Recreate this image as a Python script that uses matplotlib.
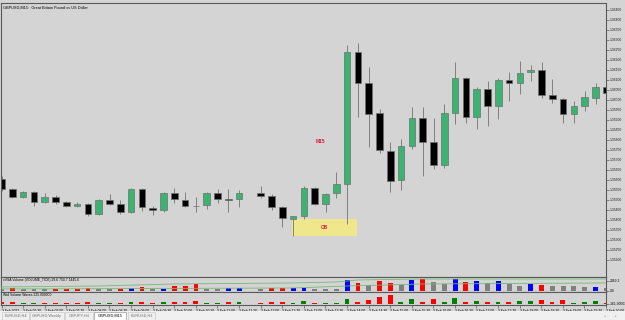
import matplotlib.pyplot as plt
from matplotlib.patches import Rectangle
import numpy as np

W, H = 625, 320

# GBPUSD M15 candles, 3 Feb 2022 (index 23 has no bar)
opens = [1.35605, 1.35555, 1.35515, 1.35540, 1.35490, 1.35515, 1.35490, 1.35470, 1.35480, 1.35430,
         1.35500, 1.35480, 1.35440, 1.35555, 1.35460, 1.35450, 1.35535, 1.35500, 1.35470, 1.35475,
         1.35535, 1.35505, 1.35505, np.nan, 1.35535, 1.35520, 1.35465, 1.35405, 1.35420, 1.35560,
         1.35480, 1.35535, 1.35580, 1.36240, 1.36085, 1.35935, 1.35745, 1.35600, 1.35770, 1.35910,
         1.35790, 1.35675, 1.35935, 1.36110, 1.35915, 1.36055, 1.35970, 1.36100, 1.36085, 1.36140,
         1.36150, 1.36025, 1.36005, 1.35930, 1.35970, 1.36010, 1.36065]
highs = [1.35620, 1.35560, 1.35545, 1.35545, 1.35535, 1.35525, 1.35495, 1.35490, 1.35485, 1.35505,
         1.35530, 1.35500, 1.35560, 1.35560, 1.35470, 1.35540, 1.35560, 1.35540, 1.35515, 1.35540,
         1.35555, 1.35555, 1.35550, np.nan, 1.35570, 1.35530, 1.35470, 1.35420, 1.35570, 1.35565,
         1.35535, 1.35640, 1.36275, 1.36285, 1.36165, 1.35955, 1.35790, 1.35805, 1.35965, 1.35965,
         1.35910, 1.35980, 1.36190, 1.36115, 1.36065, 1.36095, 1.36110, 1.36140, 1.36195, 1.36175,
         1.36190, 1.36105, 1.36010, 1.35995, 1.36045, 1.36085, 1.36075]
lows = [1.35545, 1.35510, 1.35510, 1.35470, 1.35485, 1.35480, 1.35465, 1.35465, 1.35420, 1.35425,
        1.35475, 1.35430, 1.35435, 1.35445, 1.35425, 1.35440, 1.35485, 1.35465, 1.35440, 1.35455,
        1.35485, 1.35440, 1.35465, np.nan, 1.35510, 1.35450, 1.35365, 1.35320, 1.35405, 1.35475,
        1.35440, 1.35510, 1.35380, 1.35915, 1.35765, 1.35735, 1.35540, 1.35550, 1.35755, 1.35620,
        1.35655, 1.35660, 1.35880, 1.35885, 1.35855, 1.35870, 1.35905, 1.35995, 1.36030, 1.36095,
        1.36010, 1.35985, 1.35885, 1.35885, 1.35945, 1.35980, 1.35995]
closes = [1.35555, 1.35515, 1.35540, 1.35490, 1.35515, 1.35490, 1.35470, 1.35480, 1.35430, 1.35500,
          1.35480, 1.35440, 1.35555, 1.35465, 1.35450, 1.35535, 1.35505, 1.35470, 1.35470, 1.35535,
          1.35505, 1.35500, 1.35535, np.nan, 1.35520, 1.35465, 1.35410, 1.35420, 1.35560, 1.35480,
          1.35530, 1.35580, 1.36240, 1.36085, 1.35930, 1.35750, 1.35595, 1.35770, 1.35910, 1.35790,
          1.35675, 1.35935, 1.36110, 1.35915, 1.36055, 1.35970, 1.36100, 1.36085, 1.36135, 1.36150,
          1.36025, 1.36005, 1.35930, 1.35970, 1.36015, 1.36065, 1.36035]

time_labels = ["3 Feb 2022", "3 Feb 06:30", "3 Feb 07:00", "3 Feb 07:30", "3 Feb 08:00",
               "3 Feb 08:30", "3 Feb 09:00", "3 Feb 09:30", "3 Feb 10:00", "3 Feb 10:30",
               "3 Feb 11:00", "3 Feb 11:30", "3 Feb 12:00", "3 Feb 12:30", "3 Feb 13:00",
               "3 Feb 13:30", "3 Feb 14:00", "3 Feb 14:30", "3 Feb 15:00", "3 Feb 15:30",
               "3 Feb 16:00", "3 Feb 16:30", "3 Feb 17:00", "3 Feb 17:30", "3 Feb 18:00",
               "3 Feb 18:30", "3 Feb 19:00", "3 Feb 19:30", "3 Feb 20:00"]

# order block zone and label
ob_start, ob_end = 26.9, 32.9
ob_low, ob_high = 1.35320, 1.35405
m15_pos = (29.5, 1.35790)

# xVSA volume (ticks) and colour class
vsa_volume = [500, 740, 500, 500, 500, 500, 500, 500, 740, 500,
              500, 500, 740, 990, 500, 500, 1230, 1230, 1730, 500,
              500, 740, 740, 0, 500, 740, 740, 740, 740, 500,
              500, 500, 2720, 1980, 1480, 2470, 1980, 1480, 2720, 2960,
              2220, 1730, 2960, 2220, 2470, 1980, 2470, 1730, 1230, 1730,
              1480, 1230, 1230, 1230, 990, 990, 740]
vsa_colors = ["g", "r", "g", "g", "g", "r", "r", "r", "r", "g",
              "g", "r", "b", "r", "g", "b", "r", "r", "r", "g",
              "g", "b", "b", "g", "g", "r", "r", "b", "b", "g",
              "g", "g", "b", "r", "g", "r", "r", "g", "b", "r",
              "g", "g", "b", "r", "b", "g", "b", "g", "g", "b",
              "r", "g", "g", "g", "g", "b", "g"]
ma_fast_idx = [0, 9, 16, 27, 31, 33, 39, 56]
ma_fast = [990, 1230, 1730, 1980, 2220, 2720, 2960, 2960]
ma_slow_idx = [0, 27, 32, 39, 56]
ma_slow = [490, 740, 1230, 1730, 1980]

# Weighted volume waves
waves = [60, 60, 40, 40, 40, 40, 40, 40, 80, 40,
         40, 40, 80, 60, 40, 60, 80, 80, 100, 40,
         40, 60, 60, 0, 40, 60, 80, 40, 100, 40,
         40, 40, 200, 80, 160, 280, 360, 80, 200, 60,
         200, 60, 240, 60, 100, 60, 80, 60, 100, 100,
         160, 60, 160, 40, 60, 100, 40]
wave_colors = ["r", "r", "g", "g", "r", "r", "r", "r", "r", "g",
               "g", "r", "g", "r", "r", "g", "r", "r", "r", "g",
               "g", "r", "g", "g", "r", "r", "r", "g", "g", "r",
               "g", "g", "g", "r", "r", "r", "r", "g", "g", "r",
               "r", "g", "g", "r", "g", "r", "g", "r", "g", "g",
               "r", "r", "r", "g", "g", "g", "r"]

tabs = ["EURUSD,H4", "GBPUSD,Weekly", "GBPJPY,H4", "GBPUSD,M15", "EURUSD,H1"]
active_tab = "GBPUSD,M15"

BG = "#d4d4d4"
GREEN = "#3cb371"
AXC = "#5a5a5a"
FS = 2.4
colmap = {"r": "#ff0000", "b": "#0000ff", "g": "#808080"}
wcolmap = {"r": "#ff0000", "g": "#008000"}

plt.rcParams["font.family"] = ["Liberation Sans", "DejaVu Sans"]

fig = plt.figure(figsize=(W / 100, H / 100), dpi=100)
fig.patch.set_facecolor(BG)


def px_axes(x0, y0, x1, y1):
    return fig.add_axes([x0 / W, 1 - y1 / H, (x1 - x0) / W, (y1 - y0) / H])


XLIM = (-0.05, 55.97)
idx = np.arange(len(opens))

# ---- main price chart
ax = px_axes(1, 3, 606, 277)
ax.set_facecolor(BG)
ax.set_xlim(*XLIM)
ax.set_ylim(1.36500 - 0.00005 * 277, 1.36500 - 0.00005 * 3)

o = np.array(opens); c = np.array(closes)
hi = np.array(highs); lo = np.array(lows)
ok = ~np.isnan(o)
ax.vlines(idx[ok], lo[ok], hi[ok], color="#808080", lw=0.7, zorder=1)
bottoms = np.minimum(o, c)[ok]
heights = np.maximum(np.abs(c - o)[ok], 0.000012)
cols = ["black" if cc < oo else GREEN for oo, cc in zip(o[ok], c[ok])]
ax.bar(idx[ok], heights, bottom=bottoms, width=0.62, color=cols,
       edgecolor="#707070", linewidth=0.5, zorder=2)

ax.add_patch(Rectangle((ob_start, ob_low), ob_end - ob_start, ob_high - ob_low,
                       facecolor="#f0e68c", edgecolor="none", zorder=0))
ax.text((ob_start + ob_end) / 2, (ob_low + ob_high) / 2, "OB", color="#dc143c",
        fontsize=3.4, fontweight="bold", ha="center", va="center")
ax.text(m15_pos[0], m15_pos[1], "M15", color="#dc143c", fontsize=3.4,
        fontweight="bold", ha="center", va="center")
ax.text(0.004, 0.992, "GBPUSD,M15:  Great Britain Pound vs US Dollar",
        transform=ax.transAxes, fontsize=2.8, va="top", ha="left", color="black")

yt = np.arange(1.36450, 1.35199, -0.0005)
ax.set_yticks(yt)
ax.set_yticklabels([f"{v:.5f}" for v in yt])
ax.yaxis.tick_right()
ax.tick_params(axis="y", labelsize=FS, length=2, width=0.5, color=AXC,
               labelcolor="#202020", pad=1)
ax.set_xticks([])
for s in ax.spines.values():
    s.set_color(AXC)
    s.set_linewidth(0.8)

# ---- xVSA volume panel
ax1 = px_axes(1, 277, 606, 292)
ax1.set_facecolor(BG)
ax1.set_xlim(*XLIM)
ax1.set_ylim(-250, 3450)
ax1.bar(idx, vsa_volume, width=0.45, color=[colmap[k] for k in vsa_colors], zorder=2)
ax1.plot(ma_fast_idx, ma_fast, color="#77b877", lw=0.6, zorder=3)
ax1.plot(ma_slow_idx, ma_slow, color="#77b877", lw=0.6, zorder=3)
ax1.text(0.004, 0.93, "xVSA Volume (VOLUME_TICK) 29.6 750.7 1445.6",
         transform=ax1.transAxes, fontsize=FS, va="top", ha="left")
ax1.set_yticks([2469.2, 0])
ax1.set_yticklabels(["2469.2", "0.0"])
ax1.yaxis.tick_right()
ax1.tick_params(axis="y", labelsize=FS, length=2, width=0.5, color=AXC, pad=1)
ax1.set_xticks([])
for s in ax1.spines.values():
    s.set_color(AXC)
    s.set_linewidth(0.8)

# ---- weighted volume waves panel
ax2 = px_axes(1, 292, 606, 305)
ax2.set_facecolor(BG)
ax2.set_xlim(*XLIM)
ax2.set_ylim(-60, 460)
ax2.bar(idx, waves, width=0.45, color=[wcolmap[k] for k in wave_colors], zorder=2)
ax2.text(0.004, 0.9, "Wtd Volume Waves 225.000000",
         transform=ax2.transAxes, fontsize=FS, va="top", ha="left")
ax2.set_yticks([0])
ax2.set_yticklabels(["-161.90503"])
ax2.yaxis.tick_right()
ax2.tick_params(axis="y", labelsize=FS, length=2, width=0.5, color=AXC, pad=1)
ax2.set_xticks(np.arange(0, 2 * len(time_labels), 2))
ax2.set_xticklabels(time_labels, ha="left")
ax2.tick_params(axis="x", labelsize=FS, length=2, width=0.5, color=AXC, pad=0.8)
for s in ax2.spines.values():
    s.set_color(AXC)
    s.set_linewidth(0.8)

# ---- tab strip
axt = px_axes(0, 311, 625, 320)
axt.set_xlim(0, W)
axt.set_ylim(9, 0)
axt.set_facecolor("#f0f0f0")
axt.axis("off")
axt.add_patch(Rectangle((0, 0), W, 9, facecolor="#f0f0f0", edgecolor="none"))
tab_x = [2, 30, 65, 94, 128]
tab_w = [27, 34, 28, 32, 27]
for t, x, w in zip(tabs, tab_x, tab_w):
    act = t == active_tab
    axt.add_patch(Rectangle((x, 0.5 if act else 1), w, 8, facecolor="white" if act else "#f0f0f0",
                            edgecolor="#9a9a9a" if act else "#c8c8c8", lw=0.5))
    axt.text(x + w / 2, 4.8, t, fontsize=2.8, ha="center", va="center",
             color="black" if act else "#707070")
axt.text(605, 4.8, "◂", fontsize=FS, color="#a0a0a0", ha="center", va="center",
         family="DejaVu Sans")
axt.text(616, 4.8, "▸", fontsize=FS, color="#a0a0a0", ha="center", va="center",
         family="DejaVu Sans")

fig.savefig("out.png", dpi=100, facecolor=fig.get_facecolor())
